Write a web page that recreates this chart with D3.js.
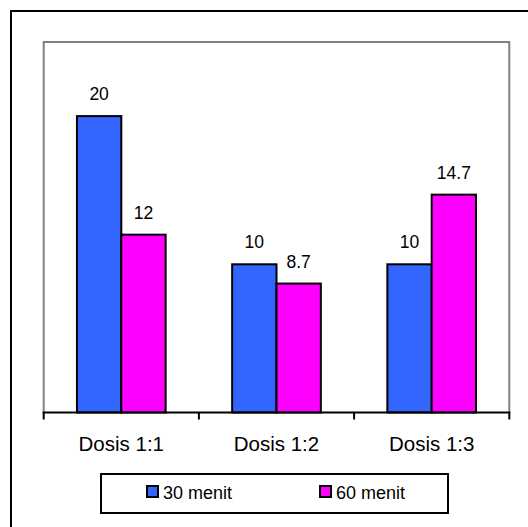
<!DOCTYPE html>
<html>
<head>
<meta charset="utf-8">
<script src="https://cdn.jsdelivr.net/npm/d3@7"></script>
<style>
  html, body { margin: 0; padding: 0; background: #fff; }
  svg { display: block; }
  text { font-family: "Liberation Sans", Arial, sans-serif; fill: #000; }
</style>
</head>
<body>
<svg id="chart" width="528" height="527"></svg>
<script>
const categories = ["Dosis 1:1", "Dosis 1:2", "Dosis 1:3"];
const seriesNames = ["30 menit", "60 menit"];
const values30 = [20, 10, 10];
const values60 = [12, 8.7, 14.7];
const valueLabels30 = ["20", "10", "10"];
const valueLabels60 = ["12", "8.7", "14.7"];
const colors = ["#3366FF", "#FF00FF"];

const svg = d3.select("#chart");

// outer frame (only top and left edges fall inside the picture)
svg.append("rect")
  .attr("x", 11).attr("y", 11)
  .attr("width", 540).attr("height", 540)
  .attr("fill", "none").attr("stroke", "#000").attr("stroke-width", 2);

const plot = { left: 43.7, right: 509.3, top: 42, bottom: 412.5 };

const x0 = d3.scaleBand()
  .domain(categories)
  .range([plot.left, plot.right])
  .paddingInner(1.5 / 3.5)
  .paddingOuter(0.75 / 3.5);

const x1 = d3.scaleBand()
  .domain(seriesNames)
  .range([0, x0.bandwidth()]);

const y = d3.scaleLinear().domain([0, 25]).range([plot.bottom, plot.top]);

// plot area border (gray) - left, top, right
svg.append("path")
  .attr("d", `M${plot.left},${plot.bottom} V${plot.top} H${plot.right} V${plot.bottom}`)
  .attr("fill", "none").attr("stroke", "#808080").attr("stroke-width", 2);

const data = categories.map((c, i) => ({
  cat: c,
  vals: [
    { s: seriesNames[0], v: values30[i], lab: valueLabels30[i], col: colors[0] },
    { s: seriesNames[1], v: values60[i], lab: valueLabels60[i], col: colors[1] }
  ]
}));

const groups = svg.selectAll("g.grp").data(data).join("g")
  .attr("class", "grp")
  .attr("transform", d => `translate(${x0(d.cat)},0)`);

groups.selectAll("rect").data(d => d.vals).join("rect")
  .attr("x", d => x1(d.s))
  .attr("y", d => y(d.v))
  .attr("width", x1.bandwidth())
  .attr("height", d => y(0) - y(d.v))
  .attr("fill", d => d.col)
  .attr("stroke", "#000").attr("stroke-width", 2);

groups.selectAll("text").data(d => d.vals).join("text")
  .attr("x", d => x1(d.s) + x1.bandwidth() / 2)
  .attr("y", d => y(d.v) - 16)
  .attr("text-anchor", "middle")
  .style("font-size", "17.5px")
  .text(d => d.lab);

// x axis
const axis = d3.axisBottom(x0).tickSize(0).tickPadding(24);
const gx = svg.append("g").attr("transform", `translate(0,${plot.bottom})`).call(axis);
gx.select(".domain").remove();
gx.selectAll("text").style("font-size", "20.5px").style("font-family", "Liberation Sans, Arial, sans-serif").attr("fill", "#000");

svg.append("line")
  .attr("x1", plot.left - 1).attr("x2", plot.right + 1)
  .attr("y1", plot.bottom).attr("y2", plot.bottom)
  .attr("stroke", "#000").attr("stroke-width", 2);

const boundaries = d3.range(categories.length + 1).map(i => plot.left + i * x0.step());
svg.selectAll("line.tick-b").data(boundaries).join("line")
  .attr("class", "tick-b")
  .attr("x1", d => d).attr("x2", d => d)
  .attr("y1", plot.bottom).attr("y2", plot.bottom + 7)
  .attr("stroke", "#000").attr("stroke-width", 2);

// legend
const legend = svg.append("g");
legend.append("rect")
  .attr("x", 101).attr("y", 474).attr("width", 347).attr("height", 39)
  .attr("fill", "#fff").attr("stroke", "#000").attr("stroke-width", 2);

const legX = [147, 320];
const items = legend.selectAll("g.item").data(seriesNames).join("g")
  .attr("class", "item")
  .attr("transform", (d, i) => `translate(${legX[i]},486)`);
items.append("rect")
  .attr("width", 11).attr("height", 11)
  .attr("fill", (d, i) => colors[i])
  .attr("stroke", "#000").attr("stroke-width", 2);
items.append("text")
  .attr("x", 16).attr("y", 12.5)
  .style("font-size", "18px")
  .text(d => d);
</script>
</body>
</html>
